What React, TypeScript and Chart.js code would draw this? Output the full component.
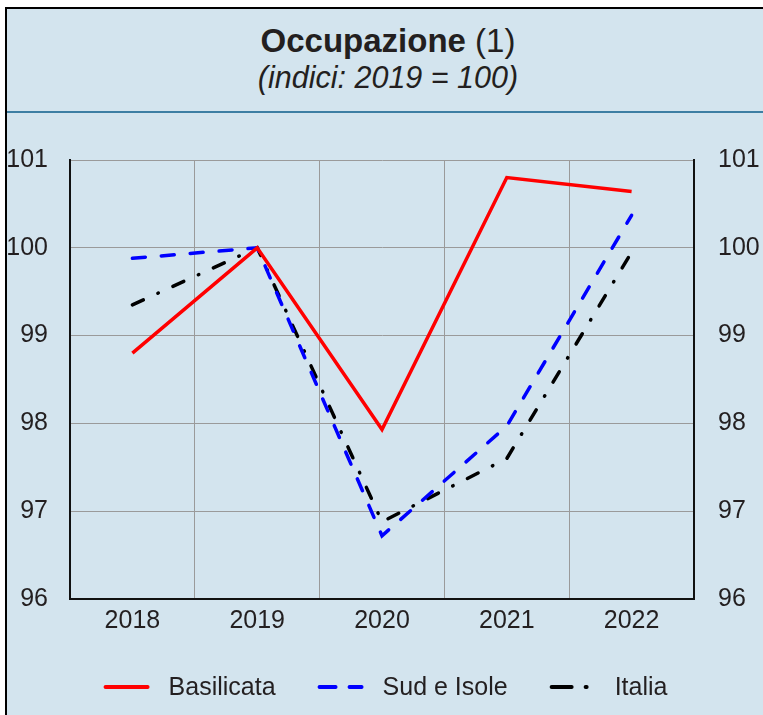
import React, { useEffect, useRef } from 'react';
import { Chart, registerables } from 'chart.js';

Chart.register(...registerables);

// ---- data ----
const categories = ['2018', '2019', '2020', '2021', '2022'];
const basilicata = [98.8, 100.0, 97.93, 100.8, 100.64];
const sudIsole = [99.88, 100.0, 96.72, 97.97, 100.37];
const italia = [99.35, 100.0, 96.88, 97.6, 99.95];
const seriesNames = ['Basilicata', 'Sud e Isole', 'Italia'];
const yMin = 96;
const yMax = 101;
const yStep = 1;

const FONT = '"Liberation Sans", Arial, Helvetica, sans-serif';
const TEXT = '#231f20';
const BG = '#d3e4ee';

const legendDashes = [[], [16, 14], [20, 14, 1, 100]];

const legendPlugin = {
  id: 'lineLegend',
  afterDraw(chart: any) {
    const ctx = chart.ctx as CanvasRenderingContext2D;
    const dsets = chart.data.datasets;
    ctx.save();
    ctx.font = `25px ${FONT}`;
    ctx.textBaseline = 'middle';
    ctx.textAlign = 'left';
    const sample = 46;
    const gapText = 19;
    const gapItem = 42;
    const widths = dsets.map((ds: any) => sample + gapText + ctx.measureText(ds.label).width);
    const total = widths.reduce((a: number, b: number) => a + b, 0) + gapItem * (dsets.length - 1);
    let x = chart.width / 2 + 4 - total / 2;
    const y = 567;
    dsets.forEach((ds: any, i: number) => {
      ctx.beginPath();
      ctx.setLineDash(legendDashes[i]);
      ctx.lineCap = 'round';
      ctx.lineWidth = 4;
      ctx.strokeStyle = ds.borderColor;
      ctx.moveTo(x + 2, y);
      ctx.lineTo(x + sample - 2, y);
      ctx.stroke();
      ctx.setLineDash([]);
      ctx.fillStyle = TEXT;
      ctx.fillText(ds.label, x + sample + gapText, y + 1);
      x += widths[i] + gapItem;
    });
    ctx.restore();
  },
};

export default function App() {
  const canvasRef = useRef<HTMLCanvasElement | null>(null);

  useEffect(() => {
    if (!canvasRef.current) return;
    const tickFont = { family: FONT, size: 25 };
    const chart = new Chart(canvasRef.current, {
      type: 'line',
      data: {
        labels: categories,
        datasets: [
          {
            label: seriesNames[0],
            data: basilicata,
            borderColor: '#ff0000',
            borderWidth: 3.5,
            pointRadius: 0,
            tension: 0,
            yAxisID: 'y',
          },
          {
            label: seriesNames[1],
            data: sudIsole,
            borderColor: '#0000ff',
            borderWidth: 3.5,
            borderDash: [13, 16],
            borderCapStyle: 'round',
            pointRadius: 0,
            tension: 0,
            yAxisID: 'y',
          },
          {
            label: seriesNames[2],
            data: italia,
            borderColor: '#000000',
            borderWidth: 3.5,
            borderDash: [12, 16, 0.5, 16],
            borderCapStyle: 'round',
            pointRadius: 0,
            tension: 0,
            yAxisID: 'y',
          },
        ],
      },
      options: {
        responsive: false,
        animation: false,
        devicePixelRatio: 1,
        layout: { padding: { top: 40, bottom: 76, left: 0, right: 0 } },
        plugins: {
          legend: { display: false },
          title: { display: false },
          tooltip: { enabled: false },
        },
        scales: {
          x: {
            type: 'category',
            offset: true,
            grid: { offset: true, color: '#9a9a9a', lineWidth: 1, drawTicks: false },
            border: { display: true, color: '#111', width: 2 },
            ticks: { font: tickFont, color: TEXT, padding: 7, maxRotation: 0 },
            afterFit(axis: any) {
              axis.height = 40;
            },
          },
          y: {
            position: 'left',
            min: yMin,
            max: yMax,
            grid: { color: '#9a9a9a', lineWidth: 1, drawTicks: false },
            border: { display: true, color: '#111', width: 2 },
            ticks: { stepSize: yStep, font: tickFont, color: TEXT, padding: 22 },
            afterFit(axis: any) {
              axis.width = 70;
            },
          },
          y2: {
            position: 'right',
            min: yMin,
            max: yMax,
            grid: { display: false, drawTicks: false },
            border: { display: true, color: '#111', width: 2 },
            ticks: { stepSize: yStep, font: tickFont, color: TEXT, padding: 24 },
            afterFit(axis: any) {
              axis.width = 69;
            },
          },
        },
      },
      plugins: [legendPlugin],
    } as any);
    return () => chart.destroy();
  }, []);

  return (
    <div style={{ position: 'absolute', left: 0, top: 0, width: 763, height: 715, overflow: 'hidden' }}>
      <div
        style={{
          position: 'absolute',
          left: 5,
          top: 7,
          width: 758,
          height: 708,
          boxSizing: 'border-box',
          borderLeft: '2px solid #000',
          borderTop: '2px solid #000',
          background: BG,
        }}
      />
      <div
        style={{
          position: 'absolute',
          left: 0,
          width: 776,
          top: 24,
          textAlign: 'center',
          fontFamily: FONT,
          fontSize: 33,
          lineHeight: '33px',
          color: TEXT,
          whiteSpace: 'nowrap',
        }}
      >
        <span style={{ fontWeight: 'bold' }}>Occupazione</span> (1)
      </div>
      <div
        style={{
          position: 'absolute',
          left: 0,
          width: 776,
          top: 62,
          textAlign: 'center',
          fontFamily: FONT,
          fontSize: 30.5,
          lineHeight: '30.5px',
          fontStyle: 'italic',
          color: TEXT,
          whiteSpace: 'nowrap',
        }}
      >
        (indici: 2019 = 100)
      </div>
      <div
        style={{
          position: 'absolute',
          left: 7,
          top: 111,
          width: 756,
          height: 2,
          background: '#3d7ea3',
        }}
      />
      <canvas
        ref={canvasRef}
        width={763}
        height={595}
        style={{ position: 'absolute', left: 0, top: 120, width: 763, height: 595 }}
      />
    </div>
  );
}
